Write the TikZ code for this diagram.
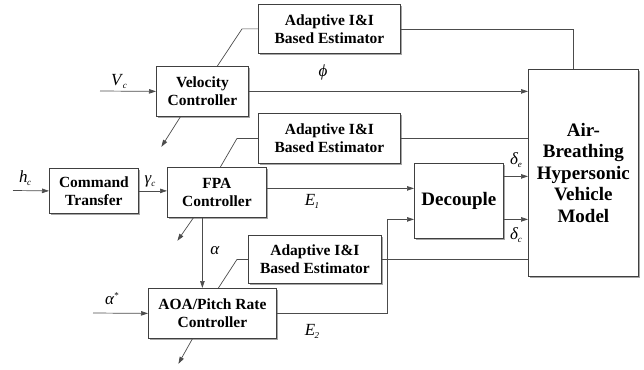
\documentclass[tikz,border=0pt]{standalone}
\usepackage{fontspec}
\setmainfont{Liberation Serif}
\usetikzlibrary{arrows.meta,shadows,calc}

% italic signal name with an italic subscript or superscript
\newcommand\sigsub[2]{\textit{#1}\kern-0.5pt\raisebox{-3pt}{\fontsize{9}{9}\selectfont\textit{#2}}}
\newcommand\sigsup[2]{\textit{#1}\raisebox{6pt}{\fontsize{9}{9}\selectfont #2}}

\tikzset{
  x=1pt, y=-1pt,
  blk/.style={draw=black!75, fill=white, line width=0.8pt, align=center,
    inner sep=0pt, anchor=north west,
    font=\bfseries\fontsize{15.5}{18}\selectfont,
    drop shadow={shadow xshift=1.2pt, shadow yshift=-1.2pt, fill=black!35, opacity=1}},
  bigblk/.style={blk, font=\bfseries\fontsize{19}{21.5}\selectfont},
  wire/.style={draw=black!70, line width=0.7pt},
  arr/.style={wire, -{Triangle[length=7pt,width=4.5pt]}},
  lbl/.style={font=\fontsize{17}{17}\selectfont, inner sep=0pt},
}

\begin{document}
\begin{tikzpicture}
\useasboundingbox (0,0) rectangle (644,369);

% blocks
\node[blk, minimum width=142, minimum height=49] (estA) at (258,4) {Adaptive I\&I\\Based Estimator};
\node[blk, minimum width=92,  minimum height=50] (vel)  at (156,66) {Velocity\\Controller};
\node[blk, minimum width=142, minimum height=50] (estB) at (258,113) {Adaptive I\&I\\Based Estimator};
\node[bigblk, minimum width=110, minimum height=207] (model) at (528,69) {Air-\\Breathing\\Hypersonic\\Vehicle\\Model};
\node[blk, minimum width=89,  minimum height=45] (cmd)  at (49,168) {Command\\Transfer};
\node[blk, minimum width=99,  minimum height=50] (fpa)  at (167,167) {FPA\\Controller};
\node[bigblk, minimum width=89, minimum height=75] (dec) at (414,163) {Decouple};
\node[blk, minimum width=133, minimum height=48] (estC) at (248,235) {Adaptive I\&I\\Based Estimator};
\node[blk, minimum width=128, minimum height=50] (aoa)  at (148,288) {AOA/Pitch Rate\\Controller};

% free ends
\coordinate (vin) at (100,91);
\coordinate (hin) at (13,190.5);
\coordinate (ain) at (93,313);
\coordinate (d1) at ([yshift=12.5pt]dec.west);
\coordinate (d2) at ([yshift=-18.5pt]dec.west);
\coordinate (o1) at ([yshift=24.5pt]dec.east);
\coordinate (o2) at ([yshift=-18.5pt]dec.east);

% velocity loop
\draw[arr] (vin) -- (vel.west);
\draw[wire] ([xshift=15pt]vel.north) -- ([xshift=-16pt]estA.west) -- (estA.west);
\draw[arr] ([xshift=-22pt]vel.south) -- ++(-19,30);
\draw[arr] (vel.east) -- (vel.east -| model.west);
\draw[wire] (estA.east) -| ([xshift=-10pt]model.north);

% flight path angle loop
\draw[arr] (hin) -- (cmd.west);
\draw[arr] (cmd.east) -- (cmd.east -| fpa.west);
\draw[wire] ([xshift=3.5pt]fpa.north) -- ([xshift=-21pt]estB.west) -- (estB.west);
\draw[wire] (estB.east) -- (estB.east -| model.west);
\draw[arr] ([yshift=4pt]fpa.east) -- (d1);
\draw[arr] ([xshift=-23.5pt]fpa.south) -- ++(-16,23);
\draw[arr] ([xshift=-14.5pt]fpa.south) -- ([xshift=-14.5pt]fpa.south |- aoa.north);

% attitude loop
\draw[arr] (ain) -- (aoa.west);
\draw[wire] ([xshift=6pt]aoa.north) -- ([xshift=-11pt]estC.west) -- (estC.west);
\draw[wire] (estC.east) -- (estC.east -| model.west);
\draw[arr] (aoa.east) -| ($(d2)+(-27,0)$) -- (d2);
\draw[arr] ([xshift=-20pt]aoa.south) -- ++(-14,25);

% decoupled commands
\draw[arr] (o1) -- (o1 -| model.west);
\draw[arr] (o2) -- (o2 -| model.west);

% signal labels
\node[lbl] (lVc) at (119,81) {\sigsub{V}{c}};
\node[lbl] (lphi) at (323,72) {\textit{ϕ}};
\node[lbl] (lhc) at (25,178) {\sigsub{h}{c}};
\node[lbl] (lgc) at (150,181) {\sigsub{γ}{c}};
\node[lbl] (lE1) at (312,201) {\sigsub{E}{1}};
\node[lbl] (lal) at (215,251) {\textit{α}};
\node[lbl] (lde) at (516,160) {\sigsub{δ}{e}};
\node[lbl] (ldc) at (516,235) {\sigsub{δ}{c}};
\node[lbl] (las) at (112,299) {\sigsup{α}{*}};
\node[lbl] (lE2) at (312,331) {\sigsub{E}{2}};
\end{tikzpicture}
\end{document}
